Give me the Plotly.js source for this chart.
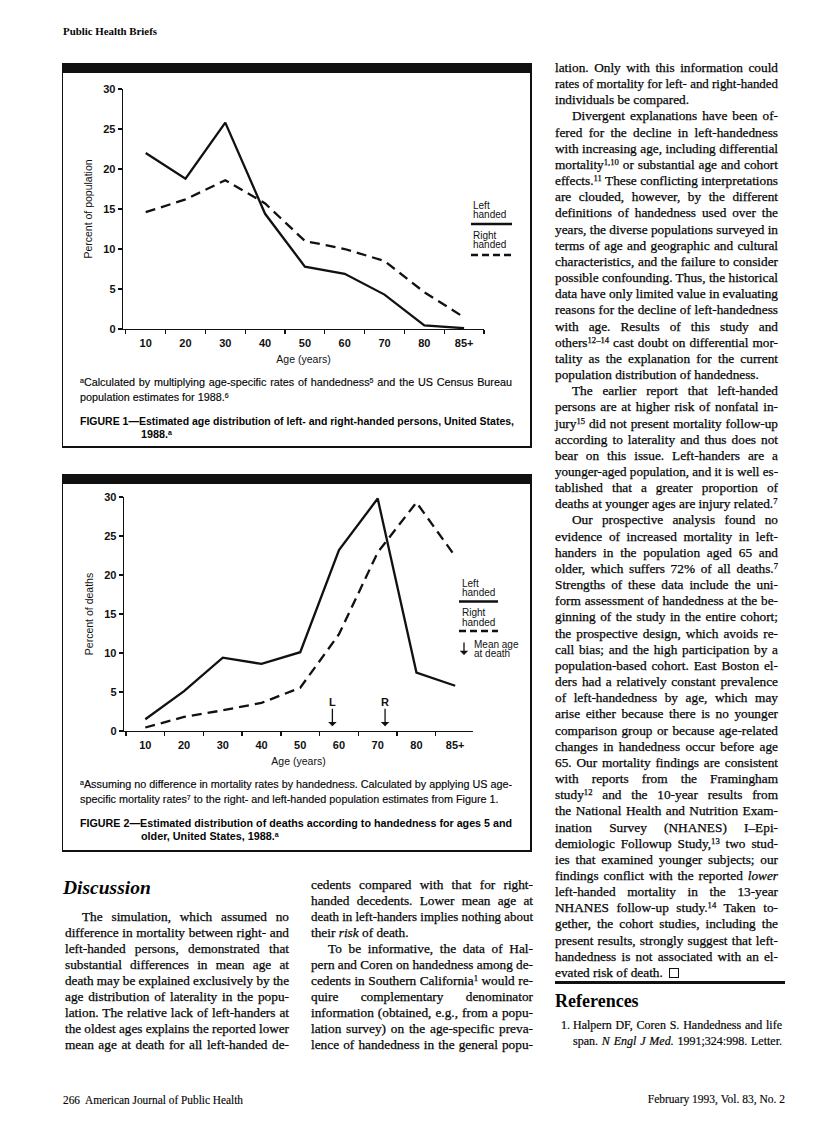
<!DOCTYPE html>
<html><head><meta charset="utf-8">
<script src="https://cdn.plot.ly/plotly-3.0.1.min.js"></script>
<style>
html,body{margin:0;padding:0;background:#fff;}
#page{position:relative;width:816px;height:1124px;overflow:hidden;background:#fff;color:#050505;}
.ln{position:absolute;white-space:nowrap;line-height:14px;height:14px;transform-origin:0 50%;}
.serif{font-family:"Liberation Serif","Times New Roman",serif;font-size:13.3px;-webkit-text-stroke:0.25px #050505;}
.ref{font-family:"Liberation Serif","Times New Roman",serif;font-size:12px;-webkit-text-stroke:0.2px #050505;}
.sans{font-family:"Liberation Sans",Arial,sans-serif;font-size:10.8px;-webkit-text-stroke:0.15px #050505;}
.sansb{font-family:"Liberation Sans",Arial,sans-serif;font-size:10.8px;font-weight:bold;}
.hdr{font-family:"Liberation Serif","Times New Roman",serif;font-size:11px;font-weight:bold;}
.h2{font-family:"Liberation Serif","Times New Roman",serif;font-size:18px;font-weight:bold;line-height:20px;height:20px;}
.h2i{font-family:"Liberation Serif","Times New Roman",serif;font-size:19.5px;font-weight:bold;font-style:italic;line-height:20px;height:20px;}
.foot{font-family:"Liberation Serif","Times New Roman",serif;font-size:11.5px;-webkit-text-stroke:0.15px #050505;}
sup{font-size:0.65em;vertical-align:0;position:relative;top:-0.45em;line-height:0;}
.qed{display:inline-block;width:8px;height:8px;border:1px solid #111;vertical-align:-1px;}
.blk{position:absolute;background:#111;z-index:5;}
.chart{position:absolute;}
</style></head>
<body><div id="page">
<div id="c1" class="chart"></div>
<div id="c2" class="chart"></div>
</div>
<script>
// ---------- chart data ----------
const ageGroups = ['10','20','30','40','50','60','70','80','85+'];
const popLeftHanded  = [22.0, 18.8, 25.8, 14.4, 7.8, 6.9, 4.3, 0.45, 0.1];
const popRightHanded = [14.6, 16.2, 18.6, 15.7, 11.0, 10.0, 8.5, 4.6, 1.45];
const deathsLeftHanded  = [1.5, 5.1, 9.4, 8.6, 10.1, 23.2, 29.8, 7.5, 5.8];
const deathsRightHanded = [0.45, 1.8, 2.65, 3.6, 5.55, 12.4, 22.9, 29.3, 22.4];
const meanAgeLabels = ['L', 'R'];
const meanAgeAtDeath = [58.3, 71.9];
const yTicks = [0, 5, 10, 15, 20, 25, 30];

// ---------- page text ----------
const rightCol = [
 ['lation. Only with this information could',0,'j'],
 ['rates of mortality for left- and right-handed',0,'j'],
 ['individuals be compared.',0,'l'],
 ['Divergent explanations have been of-',1,'j'],
 ['fered for the decline in left-handedness',0,'j'],
 ['with increasing age, including differential',0,'j'],
 ['mortality<sup>1,10</sup> or substantial age and cohort',0,'j'],
 ['effects.<sup>11</sup> These conflicting interpretations',0,'j'],
 ['are clouded, however, by the different',0,'j'],
 ['definitions of handedness used over the',0,'j'],
 ['years, the diverse populations surveyed in',0,'j'],
 ['terms of age and geographic and cultural',0,'j'],
 ['characteristics, and the failure to consider',0,'j'],
 ['possible confounding. Thus, the historical',0,'j'],
 ['data have only limited value in evaluating',0,'j'],
 ['reasons for the decline of left-handedness',0,'j'],
 ['with age. Results of this study and',0,'j'],
 ['others<sup>12–14</sup> cast doubt on differential mor-',0,'j'],
 ['tality as the explanation for the current',0,'j'],
 ['population distribution of handedness.',0,'l'],
 ['The earlier report that left-handed',1,'j'],
 ['persons are at higher risk of nonfatal in-',0,'j'],
 ['jury<sup>15</sup> did not present mortality follow-up',0,'j'],
 ['according to laterality and thus does not',0,'j'],
 ['bear on this issue. Left-handers are a',0,'j'],
 ['younger-aged population, and it is well es-',0,'j'],
 ['tablished that a greater proportion of',0,'j'],
 ['deaths at younger ages are injury related.<sup>7</sup>',0,'l'],
 ['Our prospective analysis found no',1,'j'],
 ['evidence of increased mortality in left-',0,'j'],
 ['handers in the population aged 65 and',0,'j'],
 ['older, which suffers 72% of all deaths.<sup>7</sup>',0,'j'],
 ['Strengths of these data include the uni-',0,'j'],
 ['form assessment of handedness at the be-',0,'j'],
 ['ginning of the study in the entire cohort;',0,'j'],
 ['the prospective design, which avoids re-',0,'j'],
 ['call bias; and the high participation by a',0,'j'],
 ['population-based cohort. East Boston el-',0,'j'],
 ['ders had a relatively constant prevalence',0,'j'],
 ['of left-handedness by age, which may',0,'j'],
 ['arise either because there is no younger',0,'j'],
 ['comparison group or because age-related',0,'j'],
 ['changes in handedness occur before age',0,'j'],
 ['65. Our mortality findings are consistent',0,'j'],
 ['with reports from the Framingham',0,'j'],
 ['study<sup>12</sup> and the 10-year results from',0,'j'],
 ['the National Health and Nutrition Exam-',0,'j'],
 ['ination Survey (NHANES) I–Epi-',0,'j'],
 ['demiologic Followup Study,<sup>13</sup> two stud-',0,'j'],
 ['ies that examined younger subjects; our',0,'j'],
 ['findings conflict with the reported <i>lower</i>',0,'j'],
 ['left-handed mortality in the 13-year',0,'j'],
 ['NHANES follow-up study.<sup>14</sup> Taken to-',0,'j'],
 ['gether, the cohort studies, including the',0,'j'],
 ['present results, strongly suggest that left-',0,'j'],
 ['handedness is not associated with an el-',0,'j'],
 ['evated risk of death.&nbsp; <span class="qed"></span>',0,'l']
];
const midCol = [
 ['cedents compared with that for right-',0,'j'],
 ['handed decedents. Lower mean age at',0,'j'],
 ['death in left-handers implies nothing about',0,'j'],
 ['their <i>risk</i> of death.',0,'l'],
 ['To be informative, the data of Hal-',1,'j'],
 ['pern and Coren on handedness among de-',0,'j'],
 ['cedents in Southern California<sup>1</sup> would re-',0,'j'],
 ['quire complementary denominator',0,'j'],
 ['information (obtained, e.g., from a popu-',0,'j'],
 ['lation survey) on the age-specific preva-',0,'j'],
 ['lence of handedness in the general popu-',0,'j']
];
const leftCol = [
 ['The simulation, which assumed no',1,'j'],
 ['difference in mortality between right- and',0,'j'],
 ['left-handed persons, demonstrated that',0,'j'],
 ['substantial differences in mean age at',0,'j'],
 ['death may be explained exclusively by the',0,'j'],
 ['age distribution of laterality in the popu-',0,'j'],
 ['lation. The relative lack of left-handers at',0,'j'],
 ['the oldest ages explains the reported lower',0,'j'],
 ['mean age at death for all left-handed de-',0,'j']
];

const page = document.getElementById('page');

function line(html, x, y, w, cls, mode) {
  const d = document.createElement('div');
  d.className = 'ln ' + cls;
  d.style.left = x + 'px';
  const h = (cls.indexOf('h2') === 0) ? 20 : 14;
  d.style.top = (y - h / 2) + 'px';
  d.style.zIndex = 6;
  const s = document.createElement('span');
  s.innerHTML = html;
  d.appendChild(s);
  page.appendChild(d);
  const nat = s.getBoundingClientRect().width;
  if (nat > w) {
    d.style.transform = 'scaleX(' + (w / nat) + ')';
  } else if (mode === 'j') {
    const n = (s.textContent.match(/ /g) || []).length;
    if (n) s.style.wordSpacing = ((w - nat) / n) + 'px';
  } else if (mode === 'r') {
    d.style.left = (x + w - nat) + 'px';
  }
}
function block(x, y, w, h) {
  const d = document.createElement('div');
  d.className = 'blk';
  d.style.left = x + 'px'; d.style.top = y + 'px';
  d.style.width = w + 'px'; d.style.height = h + 'px';
  page.appendChild(d);
}
function column(lines, x, w, y0, dy, indent, cls) {
  lines.forEach((l, i) => {
    const ind = l[1] ? indent : 0;
    line(l[0], x + ind, y0 + i * dy, w - ind, cls, l[2]);
  });
}

function buildText() {
  line('Public Health Briefs', 63, 31, 94, 'hdr', 'l');
  // figure boxes
  block(62, 63, 470, 10); block(62, 63, 1.3, 385); block(530, 63, 1.5, 385); block(62, 446, 470, 1.5);
  block(62, 474, 470, 10); block(62, 474, 1.3, 378); block(530, 474, 1.5, 378); block(62, 850, 470, 1.5);
  // figure 1 captions
  line('<sup>a</sup>Calculated by multiplying age-specific rates of handedness<sup>5</sup> and the US Census Bureau', 80, 382, 432, 'sans', 'j');
  line('population estimates for 1988.<sup>6</sup>', 80, 397, 300, 'sans', 'l');
  line('FIGURE 1—Estimated age distribution of left- and right-handed persons, United States,', 80, 421, 434, 'sansb', 'j');
  line('1988.<sup>a</sup>', 141, 434, 100, 'sansb', 'l');
  // figure 2 captions
  line('<sup>a</sup>Assuming no difference in mortality rates by handedness. Calculated by applying US age-', 80, 784, 432, 'sans', 'j');
  line('specific mortality rates<sup>7</sup> to the right- and left-handed population estimates from Figure 1.', 80, 799, 430, 'sans', 'l');
  line('FIGURE 2—Estimated distribution of deaths according to handedness for ages 5 and', 80, 823, 432, 'sansb', 'j');
  line('older, United States, 1988.<sup>a</sup>', 141, 836, 300, 'sansb', 'l');
  // columns
  column(rightCol, 555, 223, 68, 16.16, 17, 'serif');
  line('Discussion', 63, 888, 122, 'h2i', 'l');
  column(leftCol, 65, 224, 917, 16, 17, 'serif');
  column(midCol, 311, 222, 885, 16, 17, 'serif');
  // references
  block(555, 981, 230, 2.5);
  line('References', 555, 1001, 120, 'h2', 'l');
  line('1.', 561, 1025, 12, 'ref', 'l');
  line('Halpern DF, Coren S. Handedness and life', 573, 1025, 209, 'ref', 'j');
  line('span. <i>N Engl J Med.</i> 1991;324:998. Letter.', 573, 1041, 209, 'ref', 'j');
  // footer
  line('266&nbsp; American Journal of Public Health', 63, 1100, 180, 'foot', 'l');
  line('February 1993, Vol. 83, No. 2', 640, 1099, 145, 'foot', 'r');
}

// ---------- charts ----------
const INK = '#111';
const sansFam = 'Liberation Sans, Arial, sans-serif';

function paperMap(W, H, m) {
  return {
    x: px => (px - m.l) / (W - m.l - m.r),
    y: py => 1 - (py - m.t) / (H - m.t - m.b)
  };
}

function axisX(range) {
  return {
    type: 'category', range: range, tickson: 'boundaries',
    ticks: 'outside', ticklen: 4, tickwidth: 1.3, tickcolor: INK, ticklabelstandoff: 3,
    showline: true, linecolor: INK, linewidth: 1.3, showgrid: false, zeroline: false,
    tickfont: {family: sansFam, size: 11, color: INK, weight: 'bold'},
    title: {text: 'Age (years)', font: {family: sansFam, size: 10.5, color: INK}, standoff: 8}
  };
}
function axisY(title) {
  return {
    range: [0, 30], tickmode: 'array', tickvals: yTicks,
    ticks: 'outside', ticklen: 4, tickwidth: 1.3, tickcolor: INK,
    showline: true, linecolor: INK, linewidth: 1.3, showgrid: false, zeroline: false,
    tickfont: {family: sansFam, size: 11, color: INK, weight: 'bold'},
    title: {text: title, font: {family: sansFam, size: 10.5, color: INK}, standoff: 8}
  };
}
function legendItems(map, o, withArrow) {
  const f = {family: sansFam, size: 10, color: INK};
  const ann = [
    {text: 'Left', x: map.x(o.tx), y: map.y(o.y1)},
    {text: 'handed', x: map.x(o.tx), y: map.y(o.y1 + 9.5)},
    {text: 'Right', x: map.x(o.tx), y: map.y(o.y2)},
    {text: 'handed', x: map.x(o.tx), y: map.y(o.y2 + 9.5)}
  ].map(a => Object.assign(a, {xref: 'paper', yref: 'paper', xanchor: 'left', yanchor: 'middle', showarrow: false, font: f, borderpad: 0}));
  const shapes = [
    {type: 'line', xref: 'paper', yref: 'paper', x0: map.x(o.lx0), x1: map.x(o.lx1), y0: map.y(o.ls), y1: map.y(o.ls), line: {color: INK, width: 2.4}},
    {type: 'line', xref: 'paper', yref: 'paper', x0: map.x(o.lx0), x1: map.x(o.lx1), y0: map.y(o.ld), y1: map.y(o.ld), line: {color: INK, width: 2.4, dash: '7px,4px'}}
  ];
  if (withArrow) {
    ann.push({text: '', xref: 'paper', yref: 'paper', x: map.x(o.ax), y: map.y(o.ay1), ax: 0, ay: -(o.ay1 - o.ay0),
      showarrow: true, arrowhead: 1, arrowsize: 1.1, arrowwidth: 1.3, arrowcolor: INK});
    ann.push(Object.assign({text: 'Mean age', x: map.x(o.mx), y: map.y(o.my)}, {xref: 'paper', yref: 'paper', xanchor: 'left', yanchor: 'middle', showarrow: false, font: f, borderpad: 0}));
    ann.push(Object.assign({text: 'at death', x: map.x(o.mx), y: map.y(o.my + 9.5)}, {xref: 'paper', yref: 'paper', xanchor: 'left', yanchor: 'middle', showarrow: false, font: f, borderpad: 0}));
  }
  return {ann, shapes};
}

// Chart 1 : placed at page (62,73)
const C1 = {L: 62, T: 73, W: 469, H: 300, m: {l: 61, r: 47, t: 16, b: 44}};
const map1 = paperMap(C1.W, C1.H, C1.m);
const lg1 = legendItems({x: v => map1.x(v - C1.L), y: v => map1.y(v - C1.T)},
  {tx: 472, y1: 205, y2: 235, lx0: 471, lx1: 512, ls: 224, ld: 255}, false);
const el1 = document.getElementById('c1');
el1.style.left = C1.L + 'px'; el1.style.top = C1.T + 'px';
Plotly.newPlot(el1, [
  {x: ageGroups, y: popLeftHanded, type: 'scatter', mode: 'lines', line: {color: INK, width: 2.3}},
  {x: ageGroups, y: popRightHanded, type: 'scatter', mode: 'lines', line: {color: INK, width: 2.3, dash: '10px,6px'}}
], {
  width: C1.W, height: C1.H, margin: C1.m, showlegend: false,
  paper_bgcolor: 'rgba(0,0,0,0)', plot_bgcolor: 'rgba(0,0,0,0)',
  xaxis: axisX([-0.57, 8.5]), yaxis: axisY('Percent of population'),
  annotations: lg1.ann, shapes: lg1.shapes
}, {staticPlot: true});

// Chart 2 : placed at page (62,483)
const C2 = {L: 62, T: 483, W: 469, H: 290, m: {l: 62, r: 58, t: 14, b: 42}};
const map2 = paperMap(C2.W, C2.H, C2.m);
const lg2 = legendItems({x: v => map2.x(v - C2.L), y: v => map2.y(v - C2.T)},
  {tx: 461, y1: 583, y2: 612.5, lx0: 459, lx1: 498, ls: 601.5, ld: 631, ax: 464, ay0: 641, ay1: 655, mx: 473, my: 644}, true);
const meanAnn = meanAgeAtDeath.map((age, i) => ({
  x: (age - 10) / 10, y: 0.6, xref: 'x', yref: 'y', text: meanAgeLabels[i],
  showarrow: true, ax: 0, ay: -24, arrowhead: 1, arrowsize: 1.1, arrowwidth: 1.3, arrowcolor: INK,
  font: {family: sansFam, size: 11, color: INK, weight: 'bold'}, borderpad: 0
}));
const el2 = document.getElementById('c2');
el2.style.left = C2.L + 'px'; el2.style.top = C2.T + 'px';
Plotly.newPlot(el2, [
  {x: ageGroups, y: deathsLeftHanded, type: 'scatter', mode: 'lines', line: {color: INK, width: 2.3}},
  {x: ageGroups, y: deathsRightHanded, type: 'scatter', mode: 'lines', line: {color: INK, width: 2.3, dash: '10px,6px'}}
], {
  width: C2.W, height: C2.H, margin: C2.m, showlegend: false,
  paper_bgcolor: 'rgba(0,0,0,0)', plot_bgcolor: 'rgba(0,0,0,0)',
  xaxis: axisX([-0.55, 8.46]), yaxis: axisY('Percent of deaths'),
  annotations: meanAnn.concat(lg2.ann), shapes: lg2.shapes
}, {staticPlot: true});

if (document.fonts && document.fonts.ready) { document.fonts.ready.then(buildText); } else { buildText(); }
</script>
</body></html>
